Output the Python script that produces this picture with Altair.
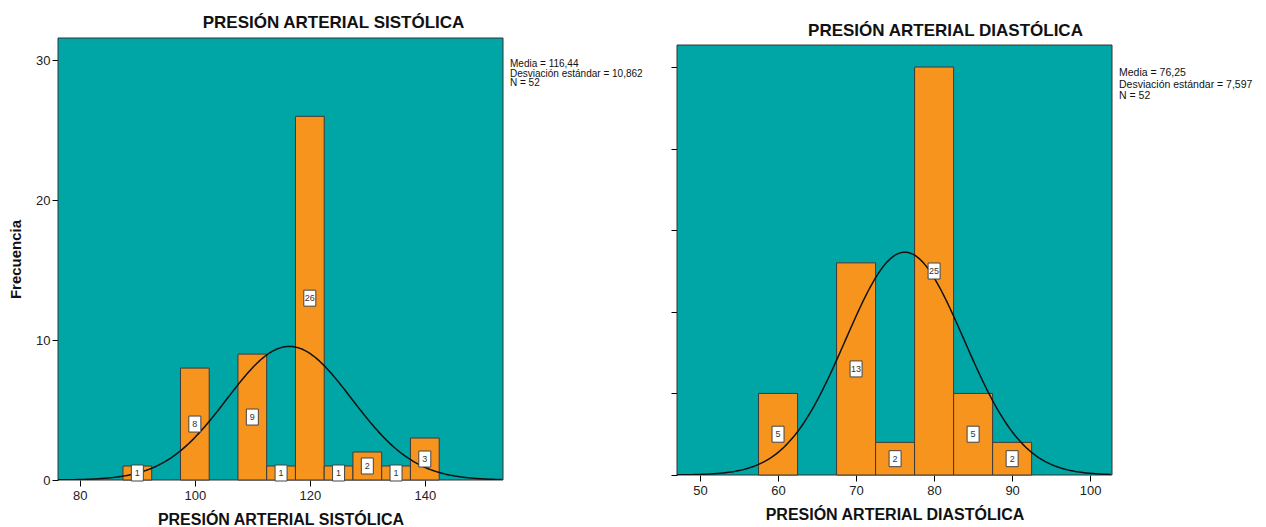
import altair as alt
import pandas as pd

# ---- data ----
sys_values = [90, 100, 110, 115, 120, 125, 130, 135, 140]
sys_counts = [1, 8, 9, 1, 26, 1, 2, 1, 3]
dia_values = [60, 70, 75, 80, 85, 90]
dia_counts = [5, 13, 2, 25, 5, 2]

means = [116.44, 76.25]
sds = [10.862, 7.597]
n_obs = 52
bin_width = 5

sys_stats = ["Media = 116,44", "Desviación estándar = 10,862", "N = 52"]
dia_stats = ["Media = 76,25", "Desviación estándar = 7,597", "N = 52"]

sys_ticks = [80, 100, 120, 140]
dia_ticks = [50, 60, 70, 80, 90, 100]
sys_yticks = [0, 10, 20, 30]
dia_yticks = [0, 5, 10, 15, 20, 25]

TEAL = "#00a6a6"
ORANGE = "#f7941e"
FONT = "Liberation Sans"

BOX = "M-0.75,-1L0.75,-1L0.75,1L-0.75,1Z"


def panel(values, counts, mean, sd, stats, xdom, ydom, panel_top, xticks,
          yticks, title, width, height, ylabels, ytitle, title_dx,
          title_offset, stats_x, stats_y, stats_size, stats_lh):
    df = pd.DataFrame({"v": values, "c": counts})
    xs = alt.Scale(domain=xdom, nice=False, zero=False)
    ys = alt.Scale(domain=ydom, nice=False, zero=False)
    base = alt.Chart(df).transform_calculate(
        x0=f"datum.v - {bin_width/2}", x1=f"datum.v + {bin_width/2}",
        mid="datum.c / 2", zero="0"
    )
    xaxis = alt.Axis(values=xticks, title=title, grid=False, domain=False,
                     tickSize=6, tickColor="#000", labelFontSize=13,
                     labelColor="#222", labelFont=FONT, titleFont=FONT,
                     titleFontSize=16, titleFontWeight="bold",
                     titleColor="#111", titlePadding=9, labelPadding=3)
    yaxis = alt.Axis(values=yticks, title=ytitle, grid=False, domain=False,
                     tickSize=6, tickColor="#000", labels=ylabels,
                     labelFontSize=13, labelColor="#222", labelFont=FONT,
                     titleFont=FONT, titleFontSize=15, titleFontWeight="bold",
                     titleColor="#111", titlePadding=12, labelPadding=2)
    bg = alt.Chart(pd.DataFrame({
        "a": [xdom[0]], "b": [xdom[1]], "lo": [ydom[0]], "hi": [panel_top]
    })).mark_rect(fill=TEAL, stroke="#333", strokeWidth=1).encode(
        x=alt.X("a:Q", scale=xs, axis=xaxis), x2="b:Q",
        y=alt.Y("lo:Q", scale=ys, axis=yaxis), y2="hi:Q",
    )
    bars = base.mark_rect(fill=ORANGE, stroke="#3a3a3a", strokeWidth=1).encode(
        x=alt.X("x0:Q", scale=xs), x2="x1:Q",
        y=alt.Y("c:Q", scale=ys), y2="zero:Q",
    )
    boxes = base.mark_point(shape=BOX, size=256, filled=True, fill="white",
                            stroke="#444", strokeWidth=1, opacity=1).encode(
        x=alt.X("v:Q", scale=xs), y=alt.Y("mid:Q", scale=ys)
    )
    labels = base.mark_text(fontSize=9, font=FONT, color="#333").encode(
        x=alt.X("v:Q", scale=xs), y=alt.Y("mid:Q", scale=ys), text="c:Q"
    )
    k = n_obs * bin_width / (sd * 2.5066282746)
    curve = alt.Chart(alt.sequence(xdom[0], xdom[1], 0.2, as_="x")).transform_calculate(
        d=f"{k} * exp(-0.5 * pow((datum.x - {mean}) / {sd}, 2))"
    ).mark_line(color="#111", strokeWidth=1.5, clip=True).encode(
        x=alt.X("x:Q", scale=xs), y=alt.Y("d:Q", scale=ys)
    )
    stat_text = alt.Chart(pd.DataFrame({"t": ["\n".join(stats)]})).mark_text(
        lineBreak="\n", align="left", baseline="top", x=stats_x, y=stats_y,
        fontSize=stats_size, lineHeight=stats_lh, font=FONT, color="#111"
    ).encode(text="t:N")
    return alt.layer(bg, bars, curve, boxes, labels, stat_text).properties(
        width=width, height=height,
        title=alt.TitleParams(title, fontSize=17, font=FONT, fontWeight="bold",
                              color="#111", anchor="middle", dx=title_dx,
                              offset=title_offset),
    )


left = panel(sys_values, sys_counts, means[0], sds[0], sys_stats,
             [76.2, 153.6], [0, 31.6], 31.6, sys_ticks, sys_yticks,
             "PRESIÓN ARTERIAL SISTÓLICA", 445, 442, True, "Frecuencia",
             53, 6, 452, 21, 10, 9.5)
right = panel(dia_values, dia_counts, means[1], sds[1], dia_stats,
              [47.05, 102.8], [0, 26.78], 26.35, dia_ticks, dia_yticks,
              "PRESIÓN ARTERIAL DIASTÓLICA", 435, 437, False, "",
              51, -2, 442, 30, 10.5, 11.5)

chart = alt.hconcat(left, right, spacing=27).configure_view(
    strokeWidth=0
).properties(
    padding={"left": 0, "top": 5, "right": 5, "bottom": 0}
)

chart.save("out.html", embed_options={"renderer": "svg", "actions": False})
